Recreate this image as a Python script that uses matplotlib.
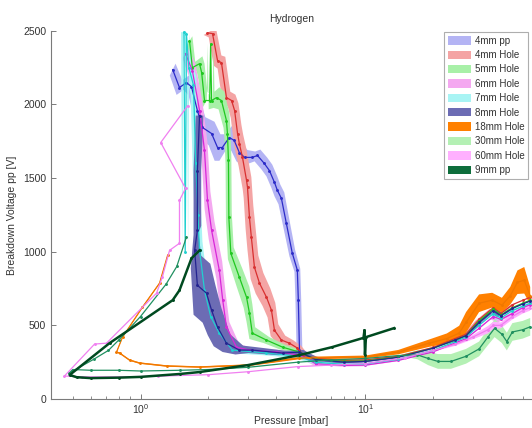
import numpy as np
import matplotlib
matplotlib.use("Agg")
import matplotlib.pyplot as plt
from matplotlib.patches import Patch
from matplotlib.ticker import LogLocator, NullFormatter, FixedLocator

plt.rcParams['font.family'] = ['Liberation Sans', 'DejaVu Sans']

# ---- measured series: pressure [mbar], breakdown voltage [V], band half-widths [V]
p_4pp = [1.39, 1.49, 1.60, 1.685, 1.79, 1.885, 2.07, 2.20, 2.31, 2.48, 2.61, 2.75, 2.90,
         3.14, 3.31, 3.55, 3.74, 3.94, 4.06, 4.23, 4.45, 4.73, 4.98, 5.03, 5.09]
v_4pp = [2236, 2114, 2148, 2120, 1958, 1843, 1802, 1707, 1707, 1775, 1755, 1673, 1640,
         1640, 1653, 1599, 1551, 1470, 1416, 1362, 1192, 989, 874, 671, 330]
dv_4pp = [40, 50, 50, 60, 70, 70, 80, 90, 90, 80, 70, 60, 50,
          40, 40, 40, 40, 40, 40, 40, 30, 20, 10, 0, 0]

p_4h = [1.985, 2.09, 2.20, 2.29, 2.41, 2.54, 2.62, 2.70, 2.75, 2.84, 2.96, 2.99, 3.05,
        3.11, 3.21, 3.38, 3.63, 3.82, 3.94, 4.23, 4.59, 4.98,
        5.3, 6, 8, 10, 14, 20, 25, 28, 32, 37, 40, 45, 50, 54]
v_4h = [2486, 2480, 2297, 2283, 2046, 2026, 1958, 1802, 1734, 1640, 1484, 1436, 1233,
        1098, 894, 786, 691, 603, 467, 400, 379, 346,
        300, 275, 262, 265, 290, 350, 410, 440, 540, 620, 580, 640, 670, 690]
dv_4h = [15, 25, 35, 40, 40, 40, 50, 60, 60, 60, 60, 70, 80,
         90, 80, 70, 60, 50, 40, 30, 20, 15,
         10, 8, 8, 8, 8, 10, 10, 10, 10, 10, 10, 10, 10, 10]

p_5h = [1.651, 1.70, 1.83, 1.87, 1.925, 2.03, 2.05, 2.07, 2.177, 2.29, 2.41, 2.435, 2.46,
        2.47, 2.52, 2.75, 2.96, 3.05, 3.14, 3.63, 4.28, 5.09,
        6, 8, 10, 14, 20, 25, 28, 32, 37, 40, 45, 50, 54]
v_5h = [2432, 2249, 2276, 2215, 2026, 2026, 2410, 2026, 2046, 2026, 1890, 1802, 1619,
        1233, 989, 827, 691, 583, 447, 400, 352, 318,
        270, 255, 258, 285, 345, 400, 430, 530, 610, 570, 620, 650, 670]
dv_5h = [30, 40, 50, 60, 60, 0, 0, 60, 70, 60, 50, 40, 30,
         30, 40, 60, 70, 60, 40, 20, 15, 10,
         8, 8, 8, 8, 10, 10, 10, 10, 10, 10, 10, 10, 10]

p_6h = [1.585, 1.70, 1.83, 1.925, 1.985, 2.07, 2.24, 2.32, 2.41, 2.67, 3.05, 4.0, 5.09,
        6, 8, 10, 14, 20, 25, 28, 32, 37, 40, 45, 50, 54]
v_6h = [2344, 2229, 1958, 1687, 1348, 1145, 874, 671, 488, 352, 332, 320, 298,
        240, 228, 230, 262, 320, 380, 410, 480, 560, 540, 580, 620, 640]
dv_6h = [30, 50, 60, 60, 60, 60, 60, 50, 35, 20, 15, 12, 10,
         8, 8, 8, 8, 10, 12, 15, 20, 20, 20, 20, 20, 20]

p_7h = [1.56, 1.58, 1.60, 1.64, 1.72, 1.76, 1.80, 1.83, 1.925, 2.05, 2.24, 2.56, 3.63, 5.0,
        6, 8, 10, 14, 20, 25, 28, 32, 37, 40, 45, 50, 54]
v_7h = [2490, 1000, 2480, 2250, 2130, 1600, 1250, 1009, 738, 560, 447, 332, 312, 290,
        250, 235, 238, 270, 330, 390, 420, 500, 580, 550, 600, 630, 650]
dv_7h = [0, 0, 0, 40, 60, 60, 60, 60, 50, 40, 30, 20, 15, 12,
         10, 10, 10, 10, 12, 15, 15, 15, 15, 15, 15, 15, 15]

p_8h = [1.83, 1.79, 1.79, 1.74, 1.79, 1.965, 2.07, 2.20, 2.41, 2.75, 3.14, 4.28, 5.09,
        6, 8, 10, 14, 20, 25, 28, 32, 37, 40, 45, 50, 54]
v_8h = [1924, 1551, 1145, 1009, 772, 718, 603, 488, 379, 332, 332, 312, 318,
        268, 250, 255, 283, 345, 400, 430, 520, 600, 565, 615, 645, 665]
dv_8h = [0, 0, 30, 120, 200, 200, 170, 130, 60, 30, 20, 15, 15,
         8, 8, 8, 8, 8, 8, 8, 8, 8, 8, 8, 8, 8]

p_18h = [1.32, 1.215, 1.02, 0.832, 0.782, 0.807, 0.894, 0.99, 1.305, 1.83, 3.05, 5.09,
         10, 14, 19.2, 23, 26.1, 28, 32, 36.6, 40.4, 44, 47.4, 50.8, 54]
v_18h = [976, 786, 623, 420, 318, 312, 264, 244, 224, 217, 230, 278,
         285, 318, 379, 410, 447, 520, 650, 671, 637, 700, 793, 806, 700]
dv_18h = [5, 5, 5, 5, 5, 5, 5, 5, 5, 5, 6, 8,
          10, 15, 25, 35, 50, 70, 60, 50, 50, 60, 80, 90, 60]

p_30h = [1.6, 1.45, 1.3, 1.0, 0.80, 0.72, 0.62, 0.48, 0.5, 0.6, 0.8, 1.0, 1.5, 2.0, 3.0,
         5.0, 7, 10, 14, 17, 19, 21, 24, 28, 32, 35, 37.5, 40.4, 42.5, 45, 50, 54]
v_30h = [1100, 900, 780, 560, 400, 330, 270, 175, 200, 195, 195, 190, 195, 200, 215,
         250, 265, 275, 295, 300, 275, 255, 255, 290, 340, 420, 480, 440, 390, 455, 470, 490]
dv_30h = [0, 0, 0, 0, 0, 0, 0, 0, 0, 0, 0, 0, 0, 0, 0,
          0, 0, 0, 0, 30, 45, 50, 50, 50, 50, 55, 60, 60, 60, 60, 60, 60]

p_60h = [1.62, 1.23, 1.585, 1.49, 1.49, 1.346, 1.25, 1.178, 0.706, 0.625, 0.459,
         0.55, 0.8, 1.2, 2, 3, 5, 7, 10, 15, 20, 25, 30, 35, 37, 40, 45, 50, 54]
v_60h = [1990, 1741, 1430, 1348, 1057, 1009, 827, 718, 379, 373, 156,
         150, 150, 155, 165, 185, 220, 230, 240, 280, 330, 370, 420, 470, 500, 500, 560, 600, 620]
dv_60h = [0, 0, 0, 0, 0, 0, 0, 0, 0, 0, 0,
          0, 0, 0, 0, 0, 0, 0, 0, 5, 8, 10, 15, 25, 25, 20, 20, 20, 20]

p_9pp = [1.83, 1.685, 1.49, 1.39, 0.728, 0.484, 0.52, 0.6, 0.8, 1.0, 1.5, 1.83,
         3.0, 5.09, 7.1, 9.8, 9.9, 9.95, 10.05, 13.4]
v_9pp = [1009, 955, 738, 671, 379, 163, 148, 142, 145, 150, 170, 183,
         230, 298, 352, 415, 467, 300, 420, 481]

labels = ["4mm pp", "4mm Hole", "5mm Hole", "6mm Hole", "7mm Hole", "8mm Hole",
          "18mm Hole", "30mm Hole", "60mm Hole", "9mm pp"]
fill_colors = ["#b4b4f4", "#f4a4a4", "#a8f0a8", "#f4a8f0", "#a8f4f4", "#6c6cb4",
               "#ff8000", "#b4f0b4", "#ffb0ff", "#0e6e3c"]
line_colors = ["#2c2cc8", "#d83030", "#20c820", "#d828d8", "#20d0d0", "#242490",
               "#f07800", "#209060", "#f080f0", "#004a20"]

series = [
    (p_4pp, v_4pp, dv_4pp, 1.03),
    (p_4h, v_4h, dv_4h, 1.04),
    (p_5h, v_5h, dv_5h, 1.03),
    (p_6h, v_6h, dv_6h, 1.03),
    (p_7h, v_7h, dv_7h, 1.03),
    (p_8h, v_8h, dv_8h, 1.04),
    (p_18h, v_18h, dv_18h, 1.0),
    (p_30h, v_30h, dv_30h, 1.0),
    (p_60h, v_60h, dv_60h, 1.0),
    (p_9pp, v_9pp, None, 1.0),
]

fig = plt.figure(figsize=(5.32, 4.28), dpi=100)
ax = fig.add_axes([51 / 532, 29 / 428, 481 / 532, 368.3 / 428])
ax.set_xscale('log')
ax.set_xlim(0.4, 55)
ax.set_ylim(0, 2500)

# shaded spread bands first, then the traces on top
for (p, v, dv, fp), fc in zip(series, fill_colors):
    if dv is None:
        continue
    p = np.asarray(p, float)
    v = np.asarray(v, float)
    dv = np.asarray(dv, float)
    xs = np.r_[p * fp, (p / fp)[::-1]]
    ys = np.r_[v + dv, (v - dv)[::-1]]
    ax.fill(xs, ys, color=fc, lw=0, zorder=1)

for i, ((p, v, dv, fp), lc) in enumerate(zip(series, line_colors)):
    lw = 1.8 if labels[i] == "9mm pp" else 0.9
    ax.plot(p, v, color=lc, lw=lw, marker='.', ms=2.2, zorder=2 + i * 0.01)

txt = '#333333'
for side in ('top', 'right'):
    ax.spines[side].set_visible(False)
for side in ('left', 'bottom'):
    ax.spines[side].set_color('#7a7a7a')
    ax.spines[side].set_linewidth(0.8)

ax.yaxis.set_major_locator(FixedLocator([0, 500, 1000, 1500, 2000, 2500]))
ax.xaxis.set_major_locator(LogLocator(base=10))
ax.xaxis.set_minor_locator(LogLocator(base=10, subs=np.arange(2, 10)))
ax.xaxis.set_minor_formatter(NullFormatter())
ax.tick_params(axis='both', which='both', direction='in', colors='#7a7a7a',
               labelcolor=txt, labelsize=7.5)
ax.tick_params(axis='x', which='major', pad=2)
ax.tick_params(which='major', length=3.5, width=0.7)
ax.tick_params(which='minor', length=2.2, width=0.6)

ax.set_xlabel("Pressure [mbar]", fontsize=7.5, color=txt, labelpad=0)
ax.set_ylabel("Breakdown Voltage pp [V]", fontsize=7.5, color=txt, labelpad=4)
ax.set_title("Hydrogen", fontsize=7.5, color=txt, pad=6)

handles = [Patch(facecolor=c, edgecolor='none') for c in fill_colors]
leg = ax.legend(handles, labels, loc='upper right', bbox_to_anchor=(0.992, 0.997),
                borderaxespad=0, fontsize=7, frameon=True, fancybox=False,
                handlelength=2.3, handleheight=0.95, handletextpad=0.4,
                labelspacing=0.45, borderpad=0.4)
leg.get_frame().set_edgecolor('#9a9a9a')
leg.get_frame().set_linewidth(0.8)
for t in leg.get_texts():
    t.set_color(txt)

fig.savefig("out.png", dpi=100)
